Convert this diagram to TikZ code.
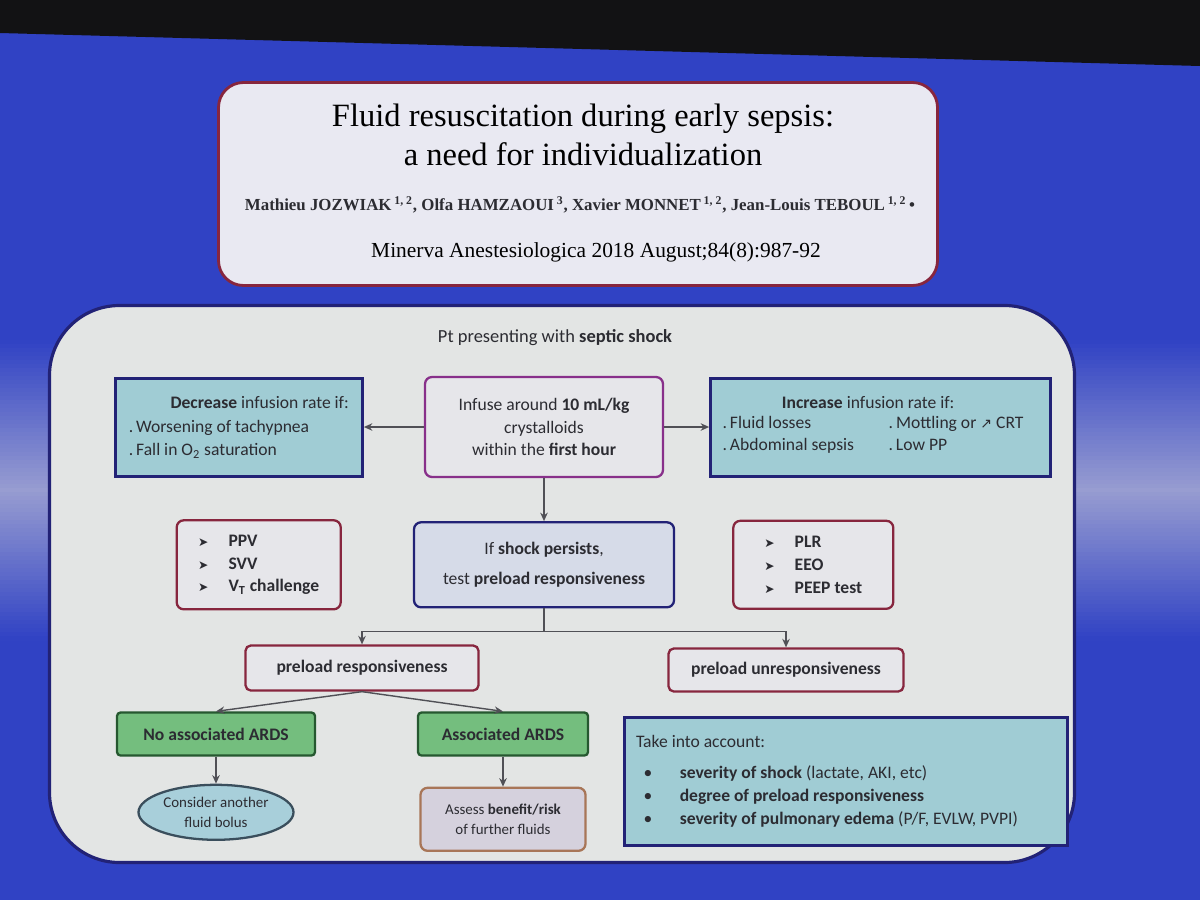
\documentclass[tikz,border=0pt]{standalone}
\usepackage{fontspec}
\setmainfont{Carlito}
\newfontfamily\serifttl{Liberation Serif}
\newfontfamily\symfont{DejaVu Sans}
\usepackage{xcolor}
\usepackage{tikz}
\usetikzlibrary{arrows.meta, positioning, shapes.geometric}

\definecolor{slideblue}{RGB}{48,66,196}
\definecolor{glare}{RGB}{178,180,212}
\definecolor{topdark}{RGB}{18,18,20}
\definecolor{titlefill}{RGB}{233,233,242}
\definecolor{maroon}{RGB}{135,38,62}
\definecolor{panelfill}{RGB}{227,229,228}
\definecolor{navy}{RGB}{34,34,118}
\definecolor{plum}{RGB}{136,48,138}
\definecolor{tealfill}{RGB}{160,204,212}
\definecolor{boxfill}{RGB}{230,230,234}
\definecolor{shockfill}{RGB}{214,219,232}
\definecolor{greenfill}{RGB}{116,190,126}
\definecolor{greenline}{RGB}{38,88,48}
\definecolor{ellfill}{RGB}{168,207,218}
\definecolor{ellline}{RGB}{58,78,92}
\definecolor{assessfill}{RGB}{213,209,221}
\definecolor{assessline}{RGB}{168,118,88}
\definecolor{textgrey}{RGB}{44,44,50}
\definecolor{linegrey}{RGB}{80,80,86}

\begin{document}
\begin{tikzpicture}[
  x=0.2mm, y=-0.2mm,
  node distance=6mm and 10mm,
  box/.style={draw, line width=1.3pt, align=center, text=textgrey,
              font=\fontsize{10}{13}\selectfont, inner sep=2pt},
  rbox/.style={box, rounded corners=4pt, fill=boxfill, draw=maroon},
  tealbox/.style={box, fill=tealfill, draw=navy, line width=1.7pt},
  greenbox/.style={box, rounded corners=2pt, fill=greenfill, draw=greenline,
                   font=\fontsize{10}{13}\selectfont\bfseries},
  arr/.style={-{Stealth[length=1.7mm, width=1.5mm]}, line width=0.8pt, draw=linegrey}
]
\useasboundingbox (0,0) rectangle (1200,900);
\fill[slideblue] (0,0) rectangle (1200,900);
\foreach \i in {0,...,74}{
  \pgfmathtruncatemacro\p{80*(1-abs(\i*4+2-150)/150)}
  \fill[glare!\p!slideblue] (0,340+\i*4) rectangle (1200,345+\i*4);
}
\fill[topdark] (0,0) -- (1200,0) -- (1200,66) -- (0,33) -- cycle;

\node[draw=maroon, line width=1.6pt, fill=titlefill, rounded corners=5mm,
      minimum width=143.8mm, minimum height=40.6mm] (paper) at (578,184) {};
\node[font=\serifttl\fontsize{18.5}{22.5}\selectfont, align=center] (ttl) at (583,135)
  {Fluid resuscitation during early sepsis:\\a need for individualization};
\node[font=\serifttl\bfseries\fontsize{9.6}{11}\selectfont, text=textgrey] (auth) at (580,205)
  {Mathieu JOZWIAK\,\textsuperscript{1, 2}, Olfa HAMZAOUI\,\textsuperscript{3}, Xavier MONNET\,\textsuperscript{1, 2}, Jean-Louis TEBOUL\,\textsuperscript{1, 2}\,\textbullet};
\node[font=\serifttl\fontsize{12.2}{14}\selectfont] (jrnl) at (596,252)
  {Minerva Anestesiologica 2018 August;84(8):987-92};

\node[draw=navy, line width=1.8pt, fill=panelfill, rounded corners=14mm,
      minimum width=205mm, minimum height=111.4mm] (panel) at (562,584) {};
\node[font=\fontsize{10.5}{13}\selectfont, text=textgrey] (pt) at (555,338)
  {Pt presenting with \textbf{septic shock}};

\node[rbox, draw=plum, minimum width=47.6mm, minimum height=20mm] (inf) at (544,427)
  {Infuse around \textbf{10 mL/kg}\\crystalloids\\within the \textbf{first hour}};
\node[tealbox, left=12mm of inf, minimum width=49.4mm, minimum height=19.6mm,
      text width=44mm, align=flush left] (dec)
  {\hspace*{\fill}\textbf{Decrease} infusion rate if:\hspace*{\fill}\\[1pt]
   .\,Worsening of tachypnea\\.\,Fall in O\textsubscript{2} saturation};
\node[tealbox, right=9mm of inf, minimum width=68mm, minimum height=19.6mm] (inc)
  {\textbf{Increase} infusion rate if:\hspace*{5mm}\\[1pt]
   \begin{tabular}{@{}p{29mm}p{30mm}@{}}
   .\,Fluid losses & .\,Mottling or {\symfont\footnotesize ↗} CRT\\
   .\,Abdominal sepsis & .\,Low PP
   \end{tabular}};

\node[rbox, draw=navy, fill=shockfill, below=8.6mm of inf, minimum width=52mm, minimum height=17mm] (shock)
  {If \textbf{shock persists},\\[4pt]test \textbf{preload responsiveness}};
\node[rbox, left=14.2mm of shock, minimum width=32.8mm, minimum height=17.8mm, align=flush left] (ppv)
  {{\symfont\scriptsize ➤}\hspace{4mm}\textbf{PPV}\\
   {\symfont\scriptsize ➤}\hspace{4mm}\textbf{SVV}\\
   {\symfont\scriptsize ➤}\hspace{4mm}\textbf{V\textsubscript{T} challenge}};
\node[rbox, right=11.4mm of shock, minimum width=32mm, minimum height=17.6mm, align=flush left] (plr)
  {{\symfont\scriptsize ➤}\hspace{4mm}\textbf{PLR}\\
   {\symfont\scriptsize ➤}\hspace{4mm}\textbf{EEO}\\
   {\symfont\scriptsize ➤}\hspace{4mm}\textbf{PEEP test}};

\coordinate[below=4.6mm of shock.south] (fork);
\node[rbox, rounded corners=3pt, minimum width=46.6mm, minimum height=9mm] (resp) at (362,668)
  {\textbf{preload responsiveness}};
\node[rbox, rounded corners=3pt, minimum width=47mm, minimum height=8.6mm] (unresp) at (786,670)
  {\textbf{preload unresponsiveness}};

\node[greenbox, minimum width=39.6mm, minimum height=8.6mm] (noards) at (216,734) {No associated ARDS};
\node[greenbox, minimum width=34mm, minimum height=8.6mm] (ards) at (503,734) {Associated ARDS};

\node[ellipse, draw=ellline, fill=ellfill, line width=1.3pt, below=5.4mm of noards,
      minimum width=31mm, minimum height=11mm, inner sep=0pt, align=center,
      text=textgrey, font=\fontsize{8.5}{11}\selectfont] (bolus)
  {Consider another\\fluid bolus};
\node[box, rounded corners=4pt, fill=assessfill, draw=assessline, below=6mm of ards,
      minimum width=33mm, minimum height=12.6mm, font=\fontsize{8.5}{11}\selectfont] (assess)
  {Assess \textbf{benefit/risk}\\of further fluids};

\node[tealbox, minimum width=88.6mm, minimum height=25.6mm, text width=84mm, align=flush left] (acct) at (846,781)
  {Take into account:\\[5pt]
   \hspace*{1.5mm}\textbullet\hspace{5.5mm}\textbf{severity of shock} (lactate, AKI, etc)\\
   \hspace*{1.5mm}\textbullet\hspace{5.5mm}\textbf{degree of preload responsiveness}\\
   \hspace*{1.5mm}\textbullet\hspace{5.5mm}\textbf{severity of pulmonary edema} (P/F, EVLW, PVPI)};

\draw[arr] (inf) -- (dec);
\draw[arr] (inf) -- (inc);
\draw[arr] (inf) -- (shock);
\draw[line width=0.8pt, draw=linegrey] (shock.south) -- (fork);
\draw[arr] (fork) -| (resp.north);
\draw[arr] (fork) -| (unresp.north);
\draw[arr] (resp.south) -- (noards.north);
\draw[arr] (resp.south) -- (ards.north);
\draw[arr] (noards) -- (bolus);
\draw[arr] (ards) -- (assess);
\end{tikzpicture}
\end{document}
